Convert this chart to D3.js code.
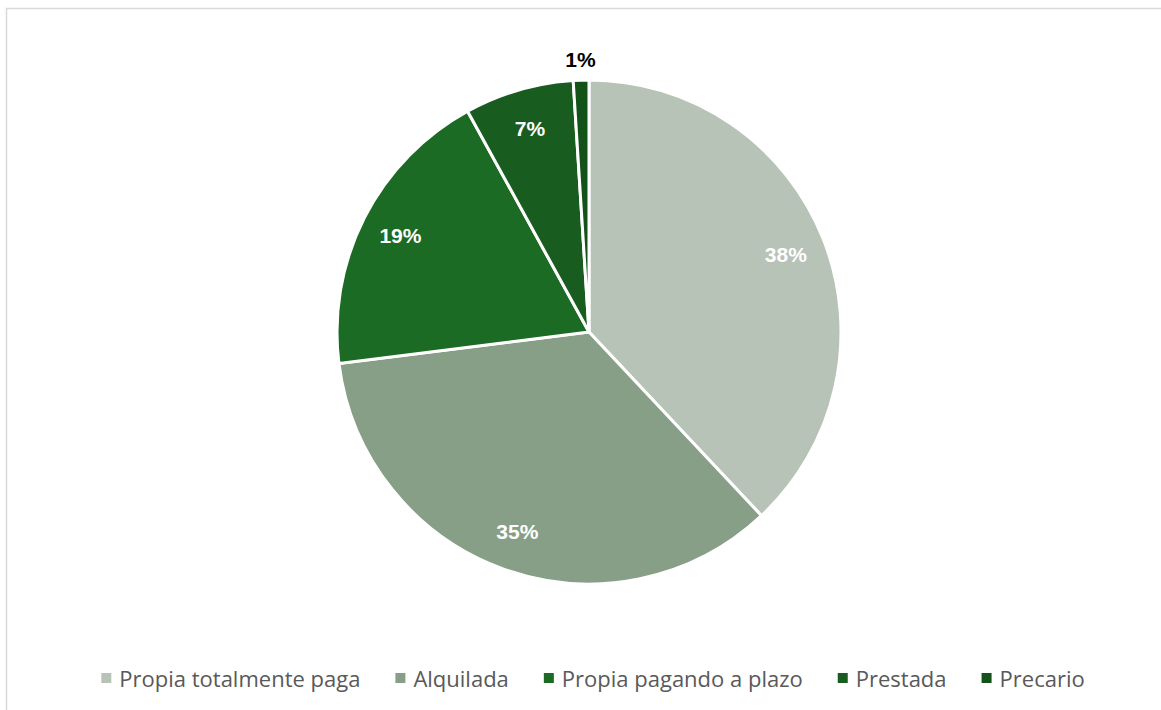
<!DOCTYPE html>
<html>
<head>
<meta charset="utf-8">
<script src="https://cdn.jsdelivr.net/npm/d3@7"></script>
<style>
  body { margin: 0; background: #fff; }
  svg { display: block; }
</style>
</head>
<body>
<svg id="chart" width="1161" height="710"></svg>
<script>
// tenencia de la vivienda
var categories = ["Propia totalmente paga", "Alquilada", "Propia pagando a plazo", "Prestada", "Precario"];
var values = [38, 35, 19, 7, 1];
var colors = ["#b7c3b7", "#879f87", "#1b6b24", "#185c1f", "#135218"];

var width = 1161, height = 710;
var cx = 589, cy = 332, radius = 252;

var svg = d3.select("#chart");

// chart frame
svg.append("path")
  .attr("d", "M6.5," + height + "V8.5H" + width)
  .attr("fill", "none")
  .attr("stroke", "#d9d9d9")
  .attr("stroke-width", 1.5);

var data = categories.map(function(c, i){ return {name: c, value: values[i], color: colors[i]}; });

var pie = d3.pie().sort(null).value(function(d){ return d.value; });
var arc = d3.arc().innerRadius(0).outerRadius(radius);
var labelArc = d3.arc().innerRadius(radius * 0.84).outerRadius(radius * 0.84);
var outerArc = d3.arc().innerRadius(radius + 21).outerRadius(radius + 21);

var g = svg.append("g").attr("transform", "translate(" + cx + "," + cy + ")");
var arcs = pie(data);

g.selectAll("path.slice")
  .data(arcs)
  .enter().append("path")
  .attr("class", "slice")
  .attr("d", arc)
  .attr("fill", function(d){ return d.data.color; })
  .attr("stroke", "#fff")
  .attr("stroke-width", 3)
  .attr("stroke-linejoin", "round");

//labels, small slice goes outside
g.selectAll("text.lbl")
  .data(arcs)
  .enter().append("text")
  .attr("class", "lbl")
  .attr("transform", function(d){
    var p = d.data.value < 3 ? outerArc.centroid(d) : labelArc.centroid(d);
    return "translate(" + p[0] + "," + p[1] + ")";
  })
  .attr("text-anchor", "middle")
  .attr("dominant-baseline", "central")
  .attr("font-family", "Liberation Sans, Arial, sans-serif")
  .attr("font-weight", "bold")
  .attr("font-size", 21)
  .attr("fill", function(d){ return d.data.value < 3 ? "#000" : "#fff"; })
  .text(function(d){ return d.data.value + "%"; });

// legend
var legend = svg.append("g");
var x = 0;
data.forEach(function(d){
  var item = legend.append("g").attr("transform", "translate(" + x + ",0)");
  item.append("rect").attr("x", 0).attr("y", -5).attr("width", 10).attr("height", 10).attr("fill", d.color);
  var t = item.append("text")
    .attr("x", 18)
    .attr("dominant-baseline", "central")
    .attr("font-family", "Open Sans, sans-serif")
    .attr("font-size", 22)
    .attr("fill", "#595959")
    .text(d.name);
  x += 18 + t.node().getComputedTextLength() + 35;
});
x -= 35;
legend.attr("transform", "translate(" + (593 - x / 2) + ",678)");
</script>
</body>
</html>
